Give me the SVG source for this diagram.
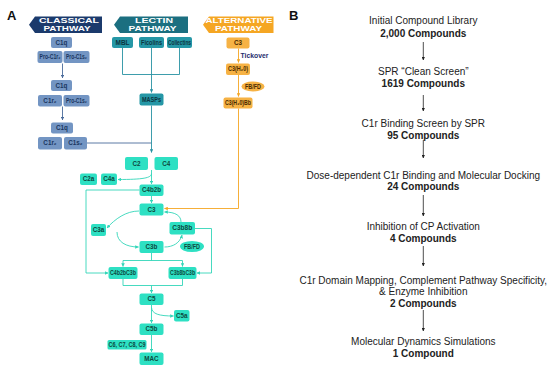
<svg xmlns="http://www.w3.org/2000/svg" width="550" height="371" viewBox="0 0 550 371">
<defs>
<style>
.bg{fill:#ffffff}
.lbl{font-family:"Liberation Sans",Arial,sans-serif;font-weight:bold;font-size:13px;fill:#111}
.ban{font-family:"Liberation Sans",Arial,sans-serif;font-weight:bold;font-size:7px;fill:#ffffff;text-anchor:middle}
.nt{font-family:"Liberation Sans","DejaVu Sans",Arial,sans-serif;font-weight:bold;font-size:6.3px;text-anchor:middle}
.cl rect{fill:#7395c3}
.cl text{fill:#1a355f}
.le rect{fill:#2597a6}
.le text{fill:#0b3440}
.al rect,.al ellipse{fill:#f6b244}
.al text{fill:#4a2a00}
.tq rect,.tq ellipse{fill:#2ee0c3}
.tq text{fill:#0c4a40}
.ln{fill:none;stroke-width:0.9}
.lcl{stroke:#4a6b9b}
.lle{stroke:#2892a3}
.ltq{stroke:#33d6b9}
.lor{stroke:#f5a623}
.lbk{stroke:#222;stroke-width:0.8;fill:none}
.bt{font-family:"Liberation Sans",Arial,sans-serif;font-size:10px;fill:#222;text-anchor:middle}
.bb{font-weight:bold}
</style>
<marker id="aCl" viewBox="0 0 6 6" refX="5.5" refY="3" markerWidth="4" markerHeight="4" orient="auto"><path d="M0,0L6,3L0,6Z" fill="#4a6b9b"/></marker>
<marker id="aLe" viewBox="0 0 6 6" refX="5.5" refY="3" markerWidth="4" markerHeight="4" orient="auto"><path d="M0,0L6,3L0,6Z" fill="#2892a3"/></marker>
<marker id="aTq" viewBox="0 0 6 6" refX="5.5" refY="3" markerWidth="4" markerHeight="4" orient="auto"><path d="M0,0L6,3L0,6Z" fill="#33d6b9"/></marker>
<marker id="aOr" viewBox="0 0 6 6" refX="5.5" refY="3" markerWidth="4" markerHeight="4" orient="auto"><path d="M0,0L6,3L0,6Z" fill="#f5a623"/></marker>
<marker id="aBk" viewBox="0 0 6 6" refX="5.5" refY="3" markerWidth="4" markerHeight="4" orient="auto"><path d="M0,0L6,3L0,6Z" fill="#222"/></marker>
</defs>
<rect class="bg" x="0" y="0" width="550" height="371"/>

<text class="lbl" x="7" y="19.5">A</text>
<text class="lbl" x="289" y="19.5">B</text>

<!-- Connectors -->
<g id="connectors">
<path class="ln lcl" d="M62.5,63.5V78" marker-end="url(#aCl)"/>
<path class="ln lcl" d="M62.5,106.5V120" marker-end="url(#aCl)"/>
<path class="ln lcl" d="M87,143H151.5"/>
<path class="ln lle" d="M122.5,48V74.5H179.5V48"/>
<path class="ln lle" d="M151.5,48V92.5" marker-end="url(#aLe)"/>
<path class="ln lle" d="M151.5,105.5V152.5" marker-end="url(#aLe)"/>
<path class="ln lor" d="M238.5,48.5V62.5" marker-end="url(#aOr)"/>
<path class="ln lor" d="M238.5,75V96.5" marker-end="url(#aOr)"/>
<path class="ln lor" d="M238.5,108.5V208.5H164.5" marker-end="url(#aOr)"/>
<path class="ln ltq" d="M151.5,170V184" marker-end="url(#aTq)"/>
<path class="ln ltq" d="M151.5,173.5C151.5,178 143,179.5 118,179.5" marker-end="url(#aTq)"/>
<path class="ln ltq" d="M151.5,196V203" marker-end="url(#aTq)"/>
<path class="ln ltq" d="M139.5,190H86V273H108" marker-end="url(#aTq)"/>
<path class="ln ltq" d="M195,228.5H211.5V273H197" marker-end="url(#aTq)"/>
<path class="ln ltq" d="M139,211C126,211 115,219 107,228" marker-end="url(#aTq)"/>
<path class="ln ltq" d="M117,232C117,242 126,247 138.5,247" marker-end="url(#aTq)"/>
<path class="ln ltq" d="M164.5,247C173,247 180,243 182,235" marker-end="url(#aTq)"/>
<path class="ln ltq" d="M181,222C181,216 176,212 164.5,212" marker-end="url(#aTq)"/>
<path class="ln ltq" d="M151.5,253V260.5"/>
<path class="ln ltq" d="M123,260.5H182.5"/>
<path class="ln ltq" d="M123,260.5V266.5" marker-end="url(#aTq)"/>
<path class="ln ltq" d="M182.5,260.5V266.5" marker-end="url(#aTq)"/>
<path class="ln ltq" d="M123,279V285.5H182.5V279"/>
<path class="ln ltq" d="M151.5,285.5V293" marker-end="url(#aTq)"/>
<path class="ln ltq" d="M151.5,305V323" marker-end="url(#aTq)"/>
<path class="ln ltq" d="M151.5,307.5C152,314 159,316 173.5,316" marker-end="url(#aTq)"/>
<path class="ln ltq" d="M151.5,335V352" marker-end="url(#aTq)"/>
<path class="lbk" d="M423.3,42V60" marker-end="url(#aBk)"/>
<path class="lbk" d="M423.3,95V111" marker-end="url(#aBk)"/>
<path class="lbk" d="M423.3,140V158" marker-end="url(#aBk)"/>
<path class="lbk" d="M423.3,195V216" marker-end="url(#aBk)"/>
<path class="lbk" d="M423.3,246V266" marker-end="url(#aBk)"/>
<path class="lbk" d="M423.3,310V331" marker-end="url(#aBk)"/>
</g>

<!-- Banners -->
<g id="banner-classical">
<path d="M29,24.75L35,16.5H102V33H35Z" fill="#1b3a6c"/>
<text class="ban" x="69" y="23" textLength="60" lengthAdjust="spacingAndGlyphs">CLASSICAL</text>
<text class="ban" x="67" y="31.3" textLength="47" lengthAdjust="spacingAndGlyphs">PATHWAY</text>
</g>
<g id="banner-lectin">
<path d="M114,24.75L120,16.5H188V33H120Z" fill="#1b6f80"/>
<text class="ban" x="154" y="23" textLength="38" lengthAdjust="spacingAndGlyphs">LECTIN</text>
<text class="ban" x="152.5" y="31.3" textLength="48" lengthAdjust="spacingAndGlyphs">PATHWAY</text>
</g>
<g id="banner-alternative">
<path d="M203,24.75L209,16.5H273.5V33H209Z" fill="#f5a623"/>
<text class="ban" x="239" y="23" textLength="67" lengthAdjust="spacingAndGlyphs">ALTERNATIVE</text>
<text class="ban" x="238.5" y="31.3" textLength="47" lengthAdjust="spacingAndGlyphs">PATHWAY</text>
</g>

<!-- Classical nodes -->
<g id="c1q-1" class="cl"><rect x="51" y="37" width="21" height="11" rx="2"/><text class="nt" x="61.5" y="44.7">C1q</text></g>
<g id="pro-c1r-1" class="cl"><rect x="37.5" y="51" width="25" height="12" rx="2"/><text class="nt" x="50" y="59" textLength="21" lengthAdjust="spacingAndGlyphs">Pro-C1r₂</text></g>
<g id="pro-c1s-1" class="cl"><rect x="63.5" y="51" width="26" height="12" rx="2"/><text class="nt" x="76.5" y="59" textLength="21" lengthAdjust="spacingAndGlyphs">Pro-C1s₂</text></g>
<g id="c1q-2" class="cl"><rect x="51" y="80" width="21" height="11" rx="2"/><text class="nt" x="61.5" y="87.7">C1q</text></g>
<g id="c1r-2" class="cl"><rect x="38" y="95" width="24" height="11.5" rx="2"/><text class="nt" x="50" y="102.8">C1r₂</text></g>
<g id="pro-c1s-2" class="cl"><rect x="63.5" y="95" width="26" height="11.5" rx="2"/><text class="nt" x="76.5" y="102.8" textLength="21" lengthAdjust="spacingAndGlyphs">Pro-C1s₂</text></g>
<g id="c1q-3" class="cl"><rect x="51" y="122.5" width="22" height="11" rx="2"/><text class="nt" x="62" y="130.2">C1q</text></g>
<g id="c1r-3" class="cl"><rect x="38" y="137" width="24" height="12.5" rx="2"/><text class="nt" x="50" y="145.3">C1r₂</text></g>
<g id="c1s-3" class="cl"><rect x="64" y="137" width="23" height="12.5" rx="2"/><text class="nt" x="75.5" y="145.3">C1s₂</text></g>

<!-- Lectin nodes -->
<g id="mbl" class="le"><rect x="112" y="37" width="21" height="11" rx="2"/><text class="nt" x="122.5" y="44.7" textLength="14" lengthAdjust="spacingAndGlyphs">MBL</text></g>
<g id="ficolins" class="le"><rect x="139" y="37" width="25" height="11" rx="2"/><text class="nt" x="151.5" y="44.7" textLength="21" lengthAdjust="spacingAndGlyphs">Ficolins</text></g>
<g id="collectins" class="le"><rect x="167" y="37" width="25" height="11" rx="2"/><text class="nt" x="179.5" y="44.7" textLength="23" lengthAdjust="spacingAndGlyphs">Collectins</text></g>
<g id="masps" class="le"><rect x="139.5" y="93.5" width="24" height="12" rx="2"/><text class="nt" x="151.5" y="101.6" textLength="19" lengthAdjust="spacingAndGlyphs">MASPs</text></g>

<!-- Alternative nodes -->
<g id="c3-alt" class="al"><rect x="226.5" y="37.5" width="23" height="11" rx="2"/><text class="nt" x="238" y="45.2">C3</text></g>
<g id="tickover"><text x="240.5" y="57.8" font-family="Liberation Sans,Arial,sans-serif" font-weight="bold" font-size="6.8" fill="#1f2d6e">Tickover</text></g>
<g id="c3h2o" class="al"><rect x="226" y="63.5" width="24" height="11.5" rx="2"/><text class="nt" x="238" y="71.4" textLength="20" lengthAdjust="spacingAndGlyphs">C3(H₂0)</text></g>
<g id="fbfd-alt" class="al"><ellipse cx="253" cy="86.5" rx="11.5" ry="5"/><text class="nt" x="253" y="88.8" textLength="16" lengthAdjust="spacingAndGlyphs">FB/FD</text></g>
<g id="c3h2obb" class="al"><rect x="223.5" y="97.5" width="29" height="11" rx="2"/><text class="nt" x="238" y="105.2" textLength="26" lengthAdjust="spacingAndGlyphs">C3(H₂0)Bb</text></g>

<!-- Terminal cascade nodes -->
<g id="c2" class="tq"><rect x="125" y="157" width="23" height="13" rx="2"/><text class="nt" x="136.5" y="165.7">C2</text></g>
<g id="c4" class="tq"><rect x="154.5" y="157" width="23.5" height="13" rx="2"/><text class="nt" x="166.2" y="165.7">C4</text></g>
<g id="c2a" class="tq"><rect x="80" y="173.5" width="17" height="11.5" rx="2"/><text class="nt" x="88.5" y="181.4">C2a</text></g>
<g id="c4a" class="tq"><rect x="101" y="173.5" width="16" height="11.5" rx="2"/><text class="nt" x="109" y="181.4">C4a</text></g>
<g id="c4b2b" class="tq"><rect x="139.5" y="184.5" width="24" height="11.5" rx="2"/><text class="nt" x="151.5" y="192.4" textLength="19" lengthAdjust="spacingAndGlyphs">C4b2b</text></g>
<g id="c3" class="tq"><rect x="139.5" y="203.5" width="24" height="12" rx="2"/><text class="nt" x="151.5" y="211.6">C3</text></g>
<g id="c3a" class="tq"><rect x="91" y="224" width="15" height="12" rx="2"/><text class="nt" x="98.5" y="232.1">C3a</text></g>
<g id="c3b8b" class="tq"><rect x="169.5" y="222" width="25.5" height="12.5" rx="2"/><text class="nt" x="182.2" y="230.3" textLength="20" lengthAdjust="spacingAndGlyphs">C3b8b</text></g>
<g id="c3b" class="tq"><rect x="139.5" y="241" width="24" height="12" rx="2"/><text class="nt" x="151.5" y="249.1">C3b</text></g>
<g id="fbfd" class="tq"><ellipse cx="192" cy="246.5" rx="12" ry="5.5"/><text class="nt" x="192" y="248.8" textLength="16" lengthAdjust="spacingAndGlyphs">FB/FD</text></g>
<g id="c4b2bc3b" class="tq"><rect x="108.5" y="267" width="29" height="12" rx="2"/><text class="nt" x="123" y="275.1" textLength="26" lengthAdjust="spacingAndGlyphs">C4b2bC3b</text></g>
<g id="c3b8bc3b" class="tq"><rect x="168.5" y="267" width="28" height="12" rx="2"/><text class="nt" x="182.5" y="275.1" textLength="25" lengthAdjust="spacingAndGlyphs">C3b8bC3b</text></g>
<g id="c5" class="tq"><rect x="139.5" y="293.5" width="24" height="11.5" rx="2"/><text class="nt" x="151.5" y="301.4">C5</text></g>
<g id="c5a" class="tq"><rect x="174" y="310" width="15.5" height="11.5" rx="2"/><text class="nt" x="181.7" y="317.9">C5a</text></g>
<g id="c5b" class="tq"><rect x="139.5" y="323.5" width="24" height="11.5" rx="2"/><text class="nt" x="151.5" y="331.4">C5b</text></g>
<g id="c6-c9" class="tq"><rect x="107.5" y="340" width="39" height="9.5" rx="1.5"/><text class="nt" x="127" y="347.1" textLength="37" lengthAdjust="spacingAndGlyphs">C6, C7, C8, C9</text></g>
<g id="mac" class="tq"><rect x="139.5" y="352.5" width="24" height="12.5" rx="2"/><text class="nt" x="151.5" y="361">MAC</text></g>

<!-- Panel B -->
<g id="step1"><text class="bt" x="423.3" y="24.3">Initial Compound Library</text><text class="bt bb" x="423.3" y="36.8">2,000 Compounds</text></g>
<g id="step2"><text class="bt" x="423.3" y="75.2">SPR “Clean Screen”</text><text class="bt bb" x="423.3" y="86.8">1619 Compounds</text></g>
<g id="step3"><text class="bt" x="423.3" y="126.8">C1r Binding Screen by SPR</text><text class="bt bb" x="423.3" y="138.5">95 Compounds</text></g>
<g id="step4"><text class="bt" x="423.3" y="178.5">Dose-dependent C1r Binding and Molecular Docking</text><text class="bt bb" x="423.3" y="190.2">24 Compounds</text></g>
<g id="step5"><text class="bt" x="423.3" y="230.2">Inhibition of CP Activation</text><text class="bt bb" x="423.3" y="241.8">4 Compounds</text></g>
<g id="step6"><text class="bt" x="423.3" y="283.5">C1r Domain Mapping, Complement Pathway Specificity,</text><text class="bt" x="423.3" y="295.2">&amp; Enzyme Inhibition</text><text class="bt bb" x="423.3" y="306.8">2 Compounds</text></g>
<g id="step7"><text class="bt" x="423.3" y="345.2">Molecular Dynamics Simulations</text><text class="bt bb" x="423.3" y="356.8">1 Compound</text></g>
</svg>
